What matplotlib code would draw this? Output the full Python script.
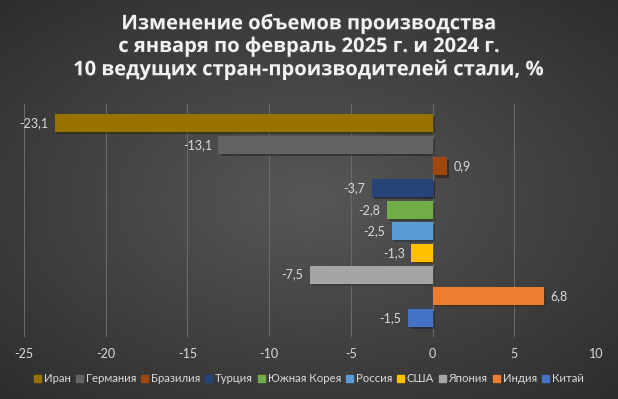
import numpy as np
import matplotlib
matplotlib.use("Agg")
from matplotlib import pyplot as plt
from matplotlib import patheffects as pe
from matplotlib.patches import Patch

# data (bottom to top)
countries = ['Китай', 'Индия', 'Япония', 'США', 'Россия', 'Южная Корея',
             'Турция', 'Бразилия', 'Германия', 'Иран']
values = [-1.5, 6.8, -7.5, -1.3, -2.5, -2.8, -3.7, 0.9, -13.1, -23.1]
colors = ['#4472C4', '#ED7D31', '#A5A5A5', '#FFC000', '#5B9BD5', '#70AD47',
          '#264478', '#9E480E', '#636363', '#997300']
xticks = [-25, -20, -15, -10, -5, 0, 5, 10]
title = ('Изменение объемов производства\n'
         'с января по февраль 2025 г. и 2024 г.\n'
         '10 ведущих стран-производителей стали, %')

txt_font = ['Lato', 'DejaVu Sans']
txt_col = '#d9d9d9'

fig = plt.figure(figsize=(6.18, 3.99), dpi=100)

# radial background
bg = fig.add_axes([0, 0, 1, 1])
yy, xx = np.mgrid[-1:1:200j, -1:1:300j]
rr = np.sqrt(xx**2 * 0.9 + yy**2)
bg.imshow(-rr, cmap=matplotlib.colors.LinearSegmentedColormap.from_list(
    'bg', ['#2e2e2e', '#575757']), aspect='auto', extent=[0, 1, 0, 1],
    vmin=-1.35, vmax=0)
bg.axis('off')

ax = fig.add_axes([24/618, 1 - 337/399, 572/618, 233/399])
ax.set_facecolor('none')
pos = np.arange(len(values))
bars = ax.barh(pos, values, height=0.83, color=colors, zorder=3)
for b in bars:
    b.set_path_effects([pe.SimplePatchShadow(offset=(1.5, -1.5), alpha=0.5),
                        pe.Normal()])

for p, v in zip(pos, values):
    lab = ('%.1f' % v).replace('.', ',')
    if v < 0:
        ax.text(v - 0.4, p, lab, ha='right', va='center', fontsize=9,
                color=txt_col, family=txt_font)
    else:
        ax.text(v + 0.4, p, lab, ha='left', va='center', fontsize=9,
                color=txt_col, family=txt_font)

ax.set_xlim(-25, 10)
ax.set_ylim(-0.89, 9.89)
ax.set_xticks(xticks)
ax.set_xticklabels([str(t) for t in xticks], family=txt_font, fontsize=9,
                   color=txt_col)
ax.set_yticks([])
ax.tick_params(axis='x', length=0, pad=8)
ax.grid(axis='x', color='#6a6a6a', linewidth=0.8, zorder=0)
for s in ax.spines.values():
    s.set_visible(False)

fig.text(0.5, 1 - 47/399, title, ha='center', va='center', fontsize=14.5,
         fontweight='bold', color='#f2f2f2', family=['Open Sans', 'DejaVu Sans'],
         linespacing=1.18,
         path_effects=[pe.withSimplePatchShadow(offset=(1, -1), alpha=0.6)])

handles = [Patch(color=c) for c in colors[::-1]]
leg = fig.legend(handles, countries[::-1], loc='center',
                 bbox_to_anchor=(0.5, 1 - 379/399), ncol=10, frameon=False,
                 prop={'family': txt_font, 'size': 8.2}, labelcolor=txt_col,
                 handlelength=0.6, handleheight=0.6, handletextpad=0.25,
                 columnspacing=0.45)

fig.savefig('out.png', dpi=100)
